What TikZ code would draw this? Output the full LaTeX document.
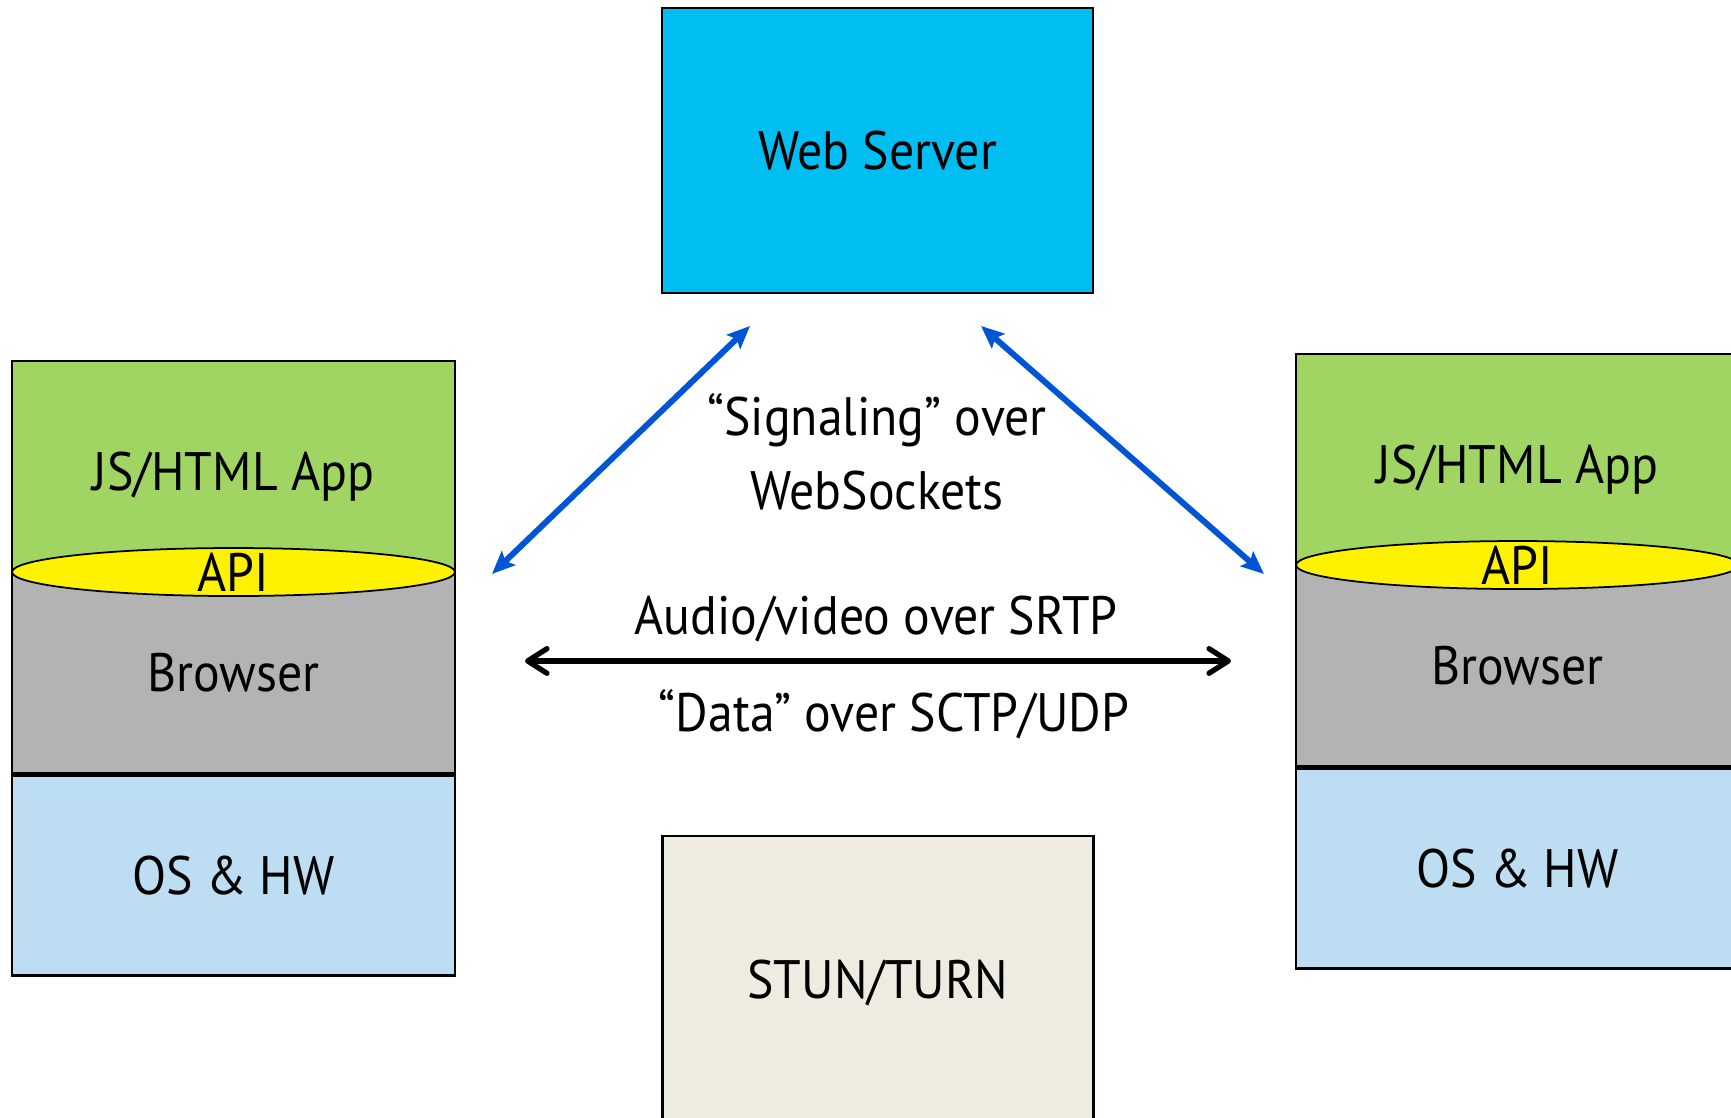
\documentclass[tikz,border=0pt]{standalone}
\usepackage{fontspec}
\setmainfont{PT Sans}[FakeStretch=0.92]
\usetikzlibrary{shapes}
\usetikzlibrary{arrows}
\usetikzlibrary{arrows.meta}
\usetikzlibrary{positioning}

\definecolor{srvblue}{RGB}{0,190,242}
\definecolor{appgreen}{RGB}{160,213,100}
\definecolor{brgray}{RGB}{179,179,179}
\definecolor{oslight}{RGB}{189,221,242}
\definecolor{stunbeige}{RGB}{238,236,225}
\definecolor{sigblue}{RGB}{0,85,214}

\begin{document}
\begin{tikzpicture}[font=\fontsize{15.4}{21}\selectfont]
\tikzstyle{server}=[rectangle,draw,line width=0.6pt,minimum width=4.31cm,minimum height=2.85cm]
\tikzstyle{app}=[rectangle,draw,line width=0.6pt,fill=appgreen,minimum width=4.43cm,minimum height=2.1cm]
\tikzstyle{browser}=[rectangle,draw,line width=0.6pt,fill=brgray,minimum width=4.43cm,minimum height=2cm]
\tikzstyle{os}=[rectangle,draw,line width=0.8pt,fill=oslight,minimum width=4.43cm,minimum height=2cm]
\tikzstyle{api}=[ellipse,draw,line width=0.5pt,fill=yellow,inner sep=0pt,minimum width=4.43cm,minimum height=0.48cm]
%styles des fleches
\tikzstyle{sigarrow}=[{Stealth[length=6.5pt,width=5.5pt,inset=1.2pt]}-{Stealth[length=6.5pt,width=5.5pt,inset=1.2pt]},sigblue,line width=1.7pt]
\tikzstyle{mediaarrow}=[{Straight Barb[length=5.5pt,width=7pt,round]}-{Straight Barb[length=5.5pt,width=7pt,round]},line width=1.5pt]
\useasboundingbox (0,0) rectangle (17.31,11.18);
\clip (0,0) rectangle (17.31,11.18);
%placement des noeuds
\node[server,fill=srvblue] (web) at (8.775,9.675) {Web Server};
\node[server,fill=stunbeige,label={[yshift=-0.5mm]center:STUN/TURN}] (stun) at (8.78,1.395) {};
% pile de gauche
\node[app,label={[yshift=-1.1mm]center:JS/HTML App}] (appL) at (2.335,6.52) {};
\node[browser,below=0cm of appL] (browserL) {Browser};
\node[os,below=0cm of browserL] (osL) {OS \& HW};
\node[api,label={[inner sep=0pt]center:API}] (apiL) at (appL.south) {};
% pile de droite
\node[app,label={[yshift=-1.1mm]center:JS/HTML App}] (appR) at (15.175,6.59) {};
\node[browser,below=0cm of appR] (browserR) {Browser};
\node[os,below=0cm of browserR] (osR) {OS \& HW};
\node[api,label={[inner sep=0pt]center:API}] (apiR) at (appR.south) {};
% textes
\node[align=center] (sigtext) at (8.77,6.66) {“Signaling” over\\WebSockets};
\node (avtext) at (8.76,4.99) {Audio/video over SRTP};
\node (datatext) at (8.94,4.04) {“Data” over SCTP/UDP};
%placement des fleches
\coordinate (sigLa) at (7.50,7.92);
\coordinate (sigLb) at (4.92,5.44);
\coordinate (sigRa) at (9.81,7.92);
\coordinate (sigRb) at (12.64,5.44);
\coordinate (mediaL) at (5.25,4.57);
\coordinate (mediaR) at (12.31,4.57);
\draw[sigarrow] (sigLa) -- (sigLb);
\draw[sigarrow] (sigRa) -- (sigRb);
\draw[mediaarrow] (mediaL) -- (mediaR);
\end{tikzpicture}
\end{document}
